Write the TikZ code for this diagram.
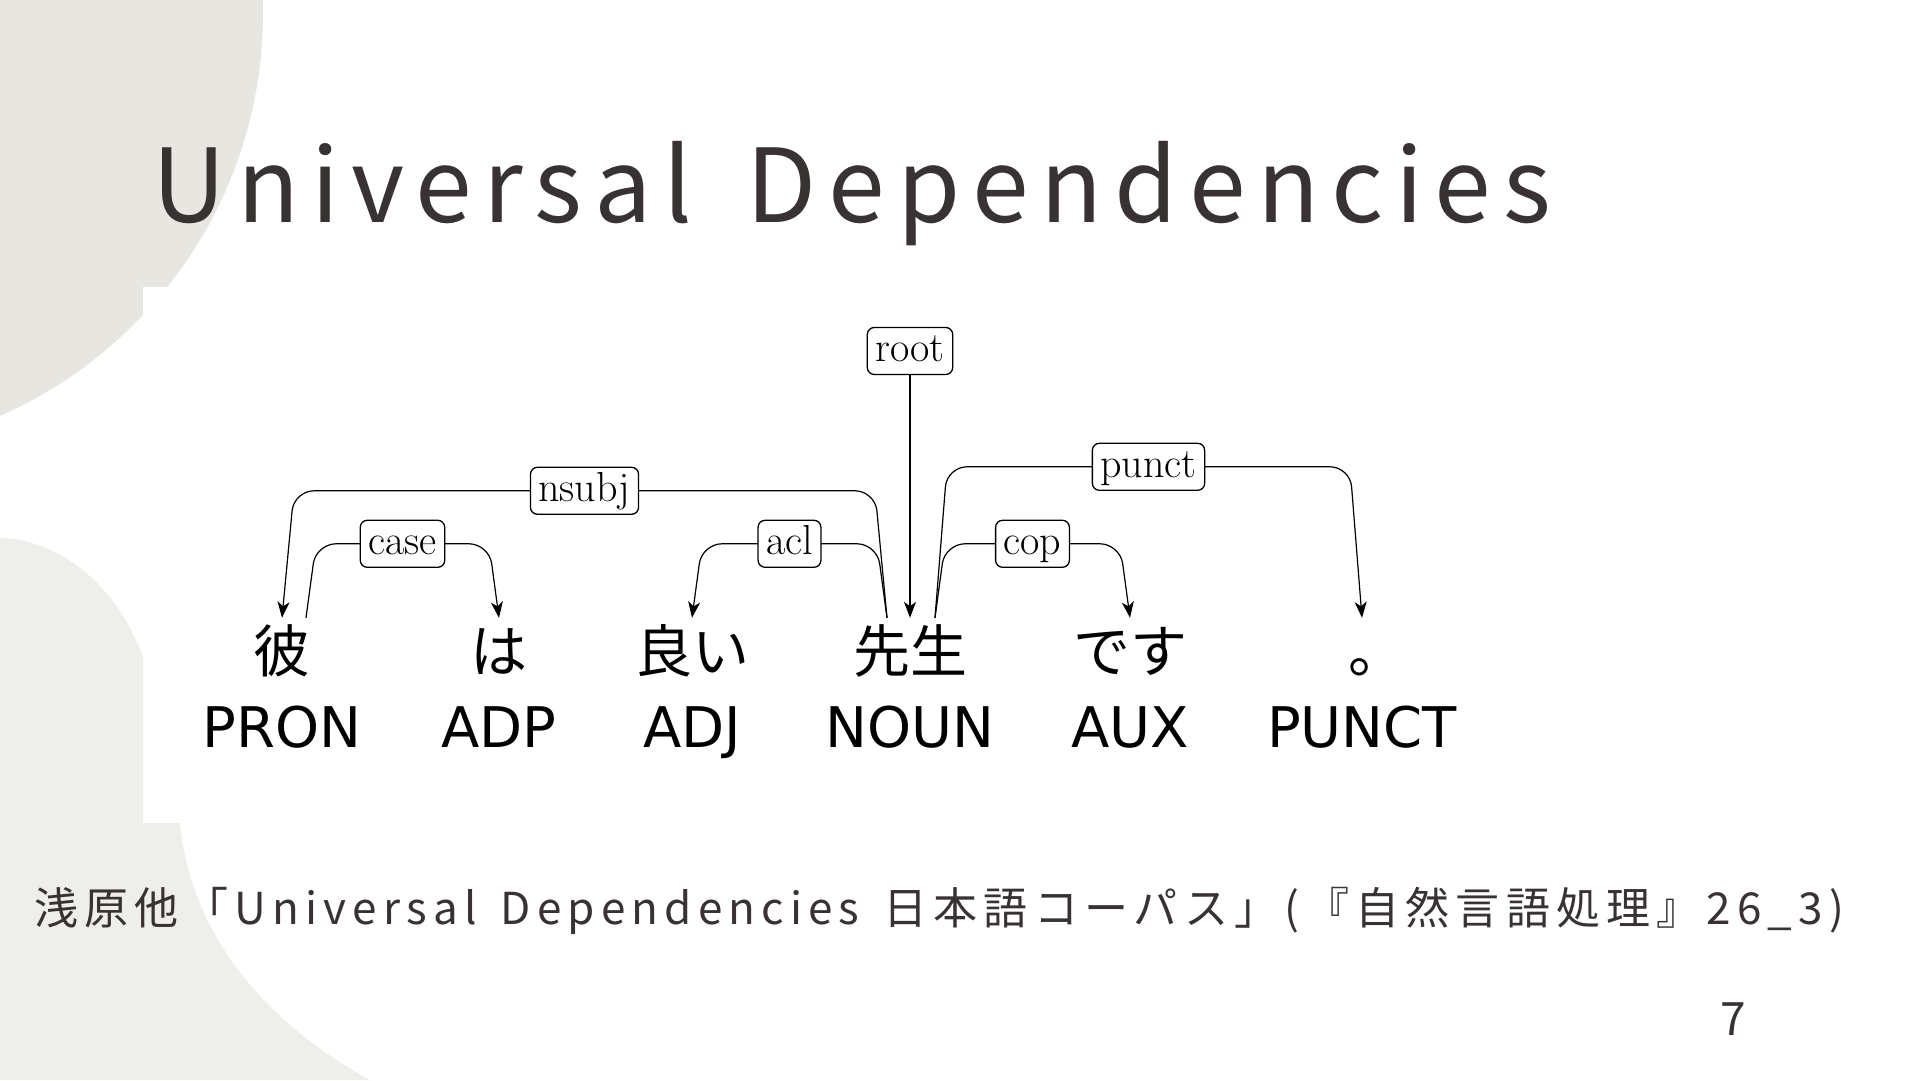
\documentclass[tikz,border=0pt]{standalone}
\usepackage{fontspec}
\usepackage{xcolor}
\usepackage{tikz}
\usetikzlibrary{arrows.meta}
\newfontfamily\jpfont{Noto Sans CJK JP}
\newfontfamily\titlefont{Noto Sans CJK JP}[LetterSpace=11.5]
\newfontfamily\citefont{Noto Sans CJK JP}[LetterSpace=14]
\newfontfamily\posfont{DejaVu Sans}
\definecolor{blobgray}{HTML}{E8E6E1}
\definecolor{blobpale}{HTML}{EEEEEB}
\definecolor{inkgray}{HTML}{383232}

\begin{document}
\begin{tikzpicture}[x=1pt, y=1pt,
  word/.style={anchor=base, inner sep=0pt, text height=55pt, font=\jpfont\fontsize{57}{60}\selectfont},
  tag/.style={anchor=base, inner sep=0pt, font=\posfont\fontsize{56}{60}\selectfont},
  lab/.style={draw, fill=white, rounded corners=7pt, line width=1.3pt, inner xsep=8pt, inner ysep=5pt, text height=29pt, text depth=8pt, font=\fontsize{42}{44}\selectfont},
  dep/.style={line width=1.2pt, rounded corners=20pt, -{Stealth[length=16pt, width=12pt, inset=4.5pt]}},
  slide/.style={inner sep=0pt, text=inkgray}]
\useasboundingbox (0,0) rectangle (1920,1080);
\clip (0,0) rectangle (1920,1080);
\fill[blobgray] (-177,1067) circle[radius=440pt];
\fill[blobpale] (0,542) .. controls (70,540) and (130,480) .. (150,400) -- (180,257) .. controls (190,150) and (260,60) .. (370,0) -- (0,0) -- cycle;
\fill[white] (143,257) rectangle (1920,793);

\node[slide, anchor=base west, font=\titlefont\fontsize{102}{110}\selectfont] (title) at (152,857) {Universal\hspace{20pt} Dependencies};

\node[word] (pron) at (282,407) {彼};
\node[word] (adp) at (499,407) {は};
\node[word] (adj) at (692,407) {良い};
\node[word] (noun) at (910,407) {先生};
\node[word] (aux) at (1130,407) {です};
\node[word] (punct) at (1377,407) {。};
\node[tag] (pron-tag) at (282,332) {PRON};
\node[tag] (adp-tag) at (499,332) {ADP};
\node[tag] (adj-tag) at (692,332) {ADJ};
\node[tag] (noun-tag) at (910,332) {NOUN};
\node[tag] (aux-tag) at (1130,332) {AUX};
\node[tag] (punct-tag) at (1362,332) {PUNCT};

\node[lab] (root) at (910,729) {root};
\draw[dep] (root) -- (noun.north);
\draw[dep] ([xshift=-23pt]noun.north) -- ++(-12,127) -- node[lab] {nsubj} ++(-581,0) -- (pron.north);
\draw[dep] ([xshift=24pt]pron.north) -- ++(10,74) -- node[lab] {case} ++(173,0) -- (adp.north);
\draw[dep] ([xshift=-23pt]noun.north) -- ++(-10,74) -- node[lab] {acl} ++(-175,0) -- (adj.north);
\draw[dep] ([xshift=25pt]noun.north) -- ++(10,74) -- node[lab] {cop} ++(175,0) -- (aux.north);
\draw[dep] ([xshift=25pt]noun.north) -- ++(12,151) -- node[lab] {punct} ++(403,0) -- ([xshift=-15pt]punct.north);

\node[slide, anchor=base west, font=\citefont\fontsize{44}{48}\selectfont] (cite) at (34,156) {浅原他「Universal\hspace{8pt} Dependencies\hspace{8pt} 日本語コーパス」(『自然言語処理』26\_3)};
\node[slide, anchor=base, font=\jpfont\fontsize{46}{50}\selectfont] (page) at (1733,45) {7};
\end{tikzpicture}
\end{document}
